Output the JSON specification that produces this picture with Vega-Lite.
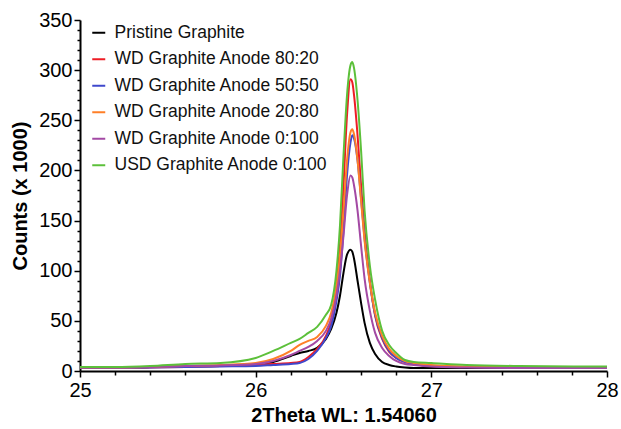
{
 "$schema": "https://vega.github.io/schema/vega-lite/v6.json",
 "width": 527, "height": 351,
 "autosize": "none",
 "padding": {"left": 80, "top": 20, "right": 14, "bottom": 58},
 "background": "white",
 "config": {"view": {"stroke": null}, "font": "Liberation Sans"},
 "data": {"values": [
  {"x":25,"s":"Pristine Graphite","y":3.5},{"x":25.2,"s":"Pristine Graphite","y":3.5},{"x":25.4,"s":"Pristine Graphite","y":4},{"x":25.6,"s":"Pristine Graphite","y":4.5},{"x":25.8,"s":"Pristine Graphite","y":5},{"x":26,"s":"Pristine Graphite","y":7},{"x":26.1,"s":"Pristine Graphite","y":9},{"x":26.2,"s":"Pristine Graphite","y":15},{"x":26.25,"s":"Pristine Graphite","y":18},{"x":26.3,"s":"Pristine Graphite","y":20},{"x":26.35,"s":"Pristine Graphite","y":23},{"x":26.4,"s":"Pristine Graphite","y":32},{"x":26.43,"s":"Pristine Graphite","y":42},{"x":26.46,"s":"Pristine Graphite","y":58},{"x":26.48,"s":"Pristine Graphite","y":75},{"x":26.5,"s":"Pristine Graphite","y":98},{"x":26.52,"s":"Pristine Graphite","y":116},{"x":26.54,"s":"Pristine Graphite","y":121},{"x":26.55,"s":"Pristine Graphite","y":119},{"x":26.56,"s":"Pristine Graphite","y":112},{"x":26.58,"s":"Pristine Graphite","y":90},{"x":26.6,"s":"Pristine Graphite","y":68},{"x":26.62,"s":"Pristine Graphite","y":48},{"x":26.65,"s":"Pristine Graphite","y":28},{"x":26.68,"s":"Pristine Graphite","y":17},{"x":26.72,"s":"Pristine Graphite","y":9},{"x":26.76,"s":"Pristine Graphite","y":6},{"x":26.8,"s":"Pristine Graphite","y":4.5},{"x":26.85,"s":"Pristine Graphite","y":3.5},{"x":26.9,"s":"Pristine Graphite","y":3},{"x":27,"s":"Pristine Graphite","y":3},{"x":27.2,"s":"Pristine Graphite","y":3},{"x":27.5,"s":"Pristine Graphite","y":3},{"x":28,"s":"Pristine Graphite","y":3},
  {"x":25,"s":"WD Graphite Anode 80:20","y":3},{"x":25.2,"s":"WD Graphite Anode 80:20","y":3},{"x":25.4,"s":"WD Graphite Anode 80:20","y":3.5},{"x":25.6,"s":"WD Graphite Anode 80:20","y":4},{"x":25.8,"s":"WD Graphite Anode 80:20","y":5},{"x":26,"s":"WD Graphite Anode 80:20","y":6},{"x":26.1,"s":"WD Graphite Anode 80:20","y":7},{"x":26.2,"s":"WD Graphite Anode 80:20","y":8},{"x":26.25,"s":"WD Graphite Anode 80:20","y":9},{"x":26.3,"s":"WD Graphite Anode 80:20","y":14},{"x":26.35,"s":"WD Graphite Anode 80:20","y":22},{"x":26.4,"s":"WD Graphite Anode 80:20","y":35},{"x":26.43,"s":"WD Graphite Anode 80:20","y":50},{"x":26.46,"s":"WD Graphite Anode 80:20","y":85},{"x":26.48,"s":"WD Graphite Anode 80:20","y":125},{"x":26.5,"s":"WD Graphite Anode 80:20","y":185},{"x":26.52,"s":"WD Graphite Anode 80:20","y":255},{"x":26.54,"s":"WD Graphite Anode 80:20","y":291},{"x":26.55,"s":"WD Graphite Anode 80:20","y":288},{"x":26.56,"s":"WD Graphite Anode 80:20","y":275},{"x":26.58,"s":"WD Graphite Anode 80:20","y":235},{"x":26.6,"s":"WD Graphite Anode 80:20","y":185},{"x":26.62,"s":"WD Graphite Anode 80:20","y":140},{"x":26.65,"s":"WD Graphite Anode 80:20","y":90},{"x":26.68,"s":"WD Graphite Anode 80:20","y":55},{"x":26.72,"s":"WD Graphite Anode 80:20","y":32},{"x":26.76,"s":"WD Graphite Anode 80:20","y":19},{"x":26.8,"s":"WD Graphite Anode 80:20","y":13},{"x":26.85,"s":"WD Graphite Anode 80:20","y":9},{"x":26.9,"s":"WD Graphite Anode 80:20","y":7},{"x":27,"s":"WD Graphite Anode 80:20","y":5},{"x":27.2,"s":"WD Graphite Anode 80:20","y":4},{"x":27.5,"s":"WD Graphite Anode 80:20","y":3.5},{"x":28,"s":"WD Graphite Anode 80:20","y":3},
  {"x":25,"s":"WD Graphite Anode 50:50","y":3},{"x":25.2,"s":"WD Graphite Anode 50:50","y":3},{"x":25.4,"s":"WD Graphite Anode 50:50","y":3.5},{"x":25.6,"s":"WD Graphite Anode 50:50","y":4},{"x":25.8,"s":"WD Graphite Anode 50:50","y":4.5},{"x":26,"s":"WD Graphite Anode 50:50","y":5},{"x":26.1,"s":"WD Graphite Anode 50:50","y":6},{"x":26.2,"s":"WD Graphite Anode 50:50","y":7},{"x":26.25,"s":"WD Graphite Anode 50:50","y":8},{"x":26.3,"s":"WD Graphite Anode 50:50","y":12},{"x":26.35,"s":"WD Graphite Anode 50:50","y":20},{"x":26.4,"s":"WD Graphite Anode 50:50","y":33},{"x":26.43,"s":"WD Graphite Anode 50:50","y":45},{"x":26.46,"s":"WD Graphite Anode 50:50","y":70},{"x":26.48,"s":"WD Graphite Anode 50:50","y":95},{"x":26.5,"s":"WD Graphite Anode 50:50","y":140},{"x":26.52,"s":"WD Graphite Anode 50:50","y":195},{"x":26.54,"s":"WD Graphite Anode 50:50","y":228},{"x":26.55,"s":"WD Graphite Anode 50:50","y":235},{"x":26.56,"s":"WD Graphite Anode 50:50","y":232},{"x":26.58,"s":"WD Graphite Anode 50:50","y":210},{"x":26.6,"s":"WD Graphite Anode 50:50","y":172},{"x":26.62,"s":"WD Graphite Anode 50:50","y":132},{"x":26.65,"s":"WD Graphite Anode 50:50","y":88},{"x":26.68,"s":"WD Graphite Anode 50:50","y":56},{"x":26.72,"s":"WD Graphite Anode 50:50","y":33},{"x":26.76,"s":"WD Graphite Anode 50:50","y":20},{"x":26.8,"s":"WD Graphite Anode 50:50","y":13},{"x":26.85,"s":"WD Graphite Anode 50:50","y":9},{"x":26.9,"s":"WD Graphite Anode 50:50","y":7},{"x":27,"s":"WD Graphite Anode 50:50","y":5},{"x":27.2,"s":"WD Graphite Anode 50:50","y":4},{"x":27.5,"s":"WD Graphite Anode 50:50","y":3.5},{"x":28,"s":"WD Graphite Anode 50:50","y":3},
  {"x":25,"s":"WD Graphite Anode 20:80","y":3.5},{"x":25.2,"s":"WD Graphite Anode 20:80","y":3.5},{"x":25.4,"s":"WD Graphite Anode 20:80","y":4},{"x":25.6,"s":"WD Graphite Anode 20:80","y":5},{"x":25.8,"s":"WD Graphite Anode 20:80","y":6},{"x":26,"s":"WD Graphite Anode 20:80","y":8},{"x":26.1,"s":"WD Graphite Anode 20:80","y":12},{"x":26.2,"s":"WD Graphite Anode 20:80","y":20},{"x":26.25,"s":"WD Graphite Anode 20:80","y":26},{"x":26.3,"s":"WD Graphite Anode 20:80","y":30},{"x":26.35,"s":"WD Graphite Anode 20:80","y":34},{"x":26.4,"s":"WD Graphite Anode 20:80","y":45},{"x":26.43,"s":"WD Graphite Anode 20:80","y":58},{"x":26.46,"s":"WD Graphite Anode 20:80","y":85},{"x":26.48,"s":"WD Graphite Anode 20:80","y":115},{"x":26.5,"s":"WD Graphite Anode 20:80","y":160},{"x":26.52,"s":"WD Graphite Anode 20:80","y":210},{"x":26.54,"s":"WD Graphite Anode 20:80","y":238},{"x":26.55,"s":"WD Graphite Anode 20:80","y":241},{"x":26.56,"s":"WD Graphite Anode 20:80","y":236},{"x":26.58,"s":"WD Graphite Anode 20:80","y":210},{"x":26.6,"s":"WD Graphite Anode 20:80","y":170},{"x":26.62,"s":"WD Graphite Anode 20:80","y":130},{"x":26.65,"s":"WD Graphite Anode 20:80","y":88},{"x":26.68,"s":"WD Graphite Anode 20:80","y":58},{"x":26.72,"s":"WD Graphite Anode 20:80","y":35},{"x":26.76,"s":"WD Graphite Anode 20:80","y":22},{"x":26.8,"s":"WD Graphite Anode 20:80","y":15},{"x":26.85,"s":"WD Graphite Anode 20:80","y":10},{"x":26.9,"s":"WD Graphite Anode 20:80","y":8},{"x":27,"s":"WD Graphite Anode 20:80","y":6},{"x":27.2,"s":"WD Graphite Anode 20:80","y":4.5},{"x":27.5,"s":"WD Graphite Anode 20:80","y":4},{"x":28,"s":"WD Graphite Anode 20:80","y":3.5},
  {"x":25,"s":"WD Graphite Anode 0:100","y":3.5},{"x":25.2,"s":"WD Graphite Anode 0:100","y":3.5},{"x":25.4,"s":"WD Graphite Anode 0:100","y":4},{"x":25.6,"s":"WD Graphite Anode 0:100","y":5},{"x":25.8,"s":"WD Graphite Anode 0:100","y":5.5},{"x":26,"s":"WD Graphite Anode 0:100","y":7},{"x":26.1,"s":"WD Graphite Anode 0:100","y":10},{"x":26.2,"s":"WD Graphite Anode 0:100","y":16},{"x":26.25,"s":"WD Graphite Anode 0:100","y":20},{"x":26.3,"s":"WD Graphite Anode 0:100","y":24},{"x":26.35,"s":"WD Graphite Anode 0:100","y":30},{"x":26.4,"s":"WD Graphite Anode 0:100","y":40},{"x":26.43,"s":"WD Graphite Anode 0:100","y":52},{"x":26.46,"s":"WD Graphite Anode 0:100","y":75},{"x":26.48,"s":"WD Graphite Anode 0:100","y":100},{"x":26.5,"s":"WD Graphite Anode 0:100","y":135},{"x":26.52,"s":"WD Graphite Anode 0:100","y":175},{"x":26.54,"s":"WD Graphite Anode 0:100","y":195},{"x":26.55,"s":"WD Graphite Anode 0:100","y":193},{"x":26.56,"s":"WD Graphite Anode 0:100","y":185},{"x":26.58,"s":"WD Graphite Anode 0:100","y":160},{"x":26.6,"s":"WD Graphite Anode 0:100","y":125},{"x":26.62,"s":"WD Graphite Anode 0:100","y":92},{"x":26.65,"s":"WD Graphite Anode 0:100","y":60},{"x":26.68,"s":"WD Graphite Anode 0:100","y":38},{"x":26.72,"s":"WD Graphite Anode 0:100","y":23},{"x":26.76,"s":"WD Graphite Anode 0:100","y":15},{"x":26.8,"s":"WD Graphite Anode 0:100","y":10},{"x":26.85,"s":"WD Graphite Anode 0:100","y":7},{"x":26.9,"s":"WD Graphite Anode 0:100","y":6},{"x":27,"s":"WD Graphite Anode 0:100","y":4.5},{"x":27.2,"s":"WD Graphite Anode 0:100","y":3.5},{"x":27.5,"s":"WD Graphite Anode 0:100","y":3},{"x":28,"s":"WD Graphite Anode 0:100","y":3},
  {"x":25,"s":"USD Graphite Anode 0:100","y":4},{"x":25.2,"s":"USD Graphite Anode 0:100","y":4},{"x":25.4,"s":"USD Graphite Anode 0:100","y":5},{"x":25.6,"s":"USD Graphite Anode 0:100","y":7},{"x":25.8,"s":"USD Graphite Anode 0:100","y":8},{"x":26,"s":"USD Graphite Anode 0:100","y":13},{"x":26.1,"s":"USD Graphite Anode 0:100","y":20},{"x":26.2,"s":"USD Graphite Anode 0:100","y":28},{"x":26.25,"s":"USD Graphite Anode 0:100","y":32},{"x":26.3,"s":"USD Graphite Anode 0:100","y":38},{"x":26.35,"s":"USD Graphite Anode 0:100","y":44},{"x":26.4,"s":"USD Graphite Anode 0:100","y":56},{"x":26.43,"s":"USD Graphite Anode 0:100","y":66},{"x":26.46,"s":"USD Graphite Anode 0:100","y":100},{"x":26.48,"s":"USD Graphite Anode 0:100","y":145},{"x":26.5,"s":"USD Graphite Anode 0:100","y":215},{"x":26.52,"s":"USD Graphite Anode 0:100","y":275},{"x":26.54,"s":"USD Graphite Anode 0:100","y":305},{"x":26.55,"s":"USD Graphite Anode 0:100","y":308},{"x":26.56,"s":"USD Graphite Anode 0:100","y":302},{"x":26.58,"s":"USD Graphite Anode 0:100","y":270},{"x":26.6,"s":"USD Graphite Anode 0:100","y":220},{"x":26.62,"s":"USD Graphite Anode 0:100","y":160},{"x":26.65,"s":"USD Graphite Anode 0:100","y":105},{"x":26.68,"s":"USD Graphite Anode 0:100","y":71},{"x":26.72,"s":"USD Graphite Anode 0:100","y":40},{"x":26.76,"s":"USD Graphite Anode 0:100","y":26},{"x":26.8,"s":"USD Graphite Anode 0:100","y":18},{"x":26.85,"s":"USD Graphite Anode 0:100","y":11},{"x":26.9,"s":"USD Graphite Anode 0:100","y":9},{"x":27,"s":"USD Graphite Anode 0:100","y":8},{"x":27.2,"s":"USD Graphite Anode 0:100","y":6},{"x":27.5,"s":"USD Graphite Anode 0:100","y":5},{"x":28,"s":"USD Graphite Anode 0:100","y":4.5}
 ]},
 "mark": {"type": "line", "strokeWidth": 2, "interpolate": "monotone", "clip": true},
 "encoding": {
  "x": {"field": "x", "type": "quantitative",
   "scale": {"domain": [25, 28], "nice": false, "zero": false},
   "axis": {"title": "2Theta WL: 1.54060",
    "values": [25,25.2,25.4,25.6,25.8,26,26.2,26.4,26.6,26.8,27,27.2,27.4,27.6,27.8,28],
    "labelExpr": "datum.value == floor(datum.value) ? format(datum.value, 'd') : ''",
    "labelOverlap": false, "labelFontSize": 20, "labelColor": "black", "labelPadding": 3, "labelFlush": false,
    "tickSize": {"condition": {"test": "datum.value == floor(datum.value)", "value": 6}, "value": 4},
    "tickColor": "black", "tickWidth": 1.5, "domainColor": "black", "domainWidth": 2,
    "titleFontSize": 20, "titleFontWeight": "bold", "titleColor": "black", "titlePadding": 5, "grid": false}},
  "y": {"field": "y", "type": "quantitative",
   "scale": {"domain": [0, 350], "nice": false},
   "axis": {"title": "Counts (x 1000)",
    "values": [0,10,20,30,40,50,60,70,80,90,100,110,120,130,140,150,160,170,180,190,200,210,220,230,240,250,260,270,280,290,300,310,320,330,340,350],
    "labelExpr": "datum.value % 50 == 0 ? format(datum.value, 'd') : ''",
    "labelOverlap": false, "labelFontSize": 20, "labelColor": "black", "labelPadding": 2, "labelFlush": false,
    "tickSize": {"condition": {"test": "datum.value % 50 == 0", "value": 6}, "value": 3},
    "tickColor": "black", "tickWidth": 1.5, "domainColor": "black", "domainWidth": 2,
    "titleFontSize": 20, "titleFontWeight": "bold", "titleColor": "black", "titlePadding": 8, "grid": false}},
  "color": {"field": "s", "type": "nominal",
   "scale": {"domain": ["Pristine Graphite","WD Graphite Anode 80:20","WD Graphite Anode 50:50","WD Graphite Anode 20:80","WD Graphite Anode 0:100","USD Graphite Anode 0:100"],
    "range": ["#000000","#ee1c25","#3f48cc","#ff7f27","#a349a4","#5cc03a"]},
   "legend": {"title": null, "orient": "none", "legendX": 10, "legendY": 4, "symbolType": "stroke", "symbolSize": 169, "symbolStrokeWidth": 2,
    "labelFontSize": 17.5, "labelColor": "#111", "labelOffset": 7, "rowPadding": 7.5, "labelLimit": 400}}
 }
}
